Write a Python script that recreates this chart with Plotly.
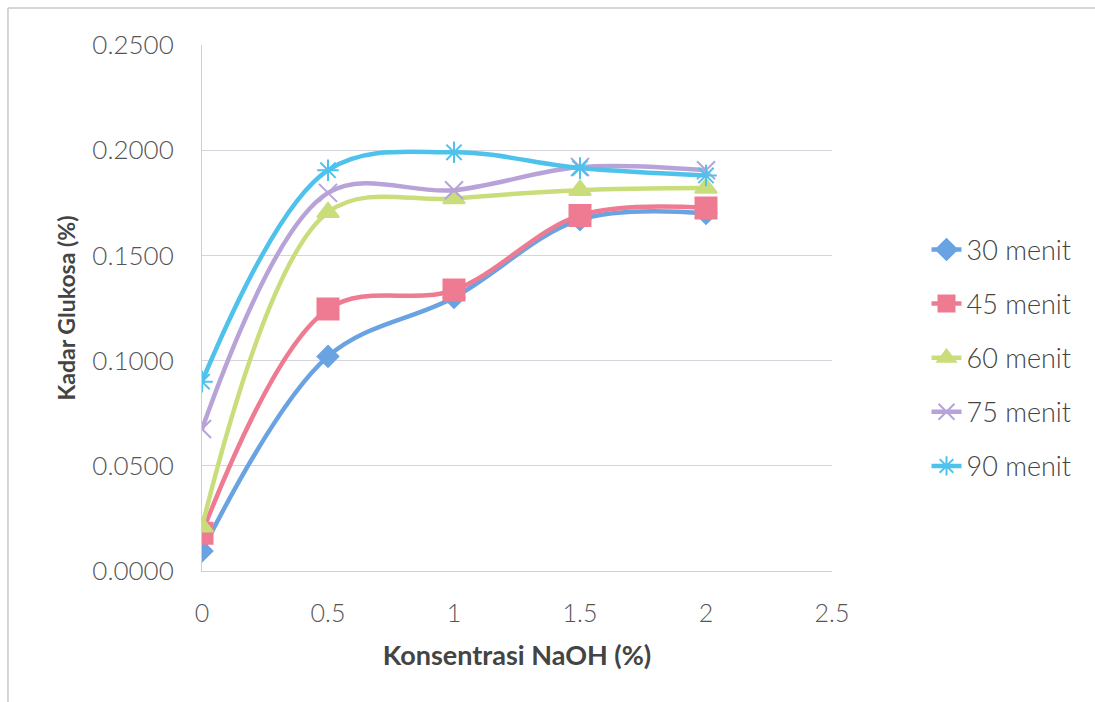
import plotly.graph_objects as go

x_vals = [0, 0.5, 1, 1.5, 2]
series_names = ["30 menit", "45 menit", "60 menit", "75 menit", "90 menit"]
y_30 = [0.0095, 0.1020, 0.1300, 0.1670, 0.1700]
y_45 = [0.0180, 0.1245, 0.1335, 0.1690, 0.1725]
y_60 = [0.0210, 0.1705, 0.1770, 0.1810, 0.1820]
y_75 = [0.0675, 0.1797, 0.1810, 0.1920, 0.1905]
y_90 = [0.0900, 0.1905, 0.1990, 0.1915, 0.1880]
colors = ["#6aa3e2", "#ee7b92", "#c9dd7a", "#b8a3d8", "#4fc2ec"]
symbols = ["diamond", "square", "triangle-up", "x-thin-open", "asterisk-open"]
sizes = [16, 21, 19, 18, 18]

fig = go.Figure()
for i, (name, ys) in enumerate(zip(series_names, [y_30, y_45, y_60, y_75, y_90])):
    fig.add_trace(go.Scatter(
        x=x_vals, y=ys, name=name, mode="lines+markers",
        line=dict(color=colors[i], width=4.5, shape="spline", smoothing=1.0),
        marker=dict(symbol=symbols[i], size=sizes[i], color=colors[i],
                    line=dict(color=colors[i], width=2)),
        legendgroup=name,
    ))

fig.update_layout(
    width=1095, height=702,
    margin=dict(l=202, r=263, t=45, b=131),
    paper_bgcolor="white", plot_bgcolor="white",
    font=dict(family="Lato, Open Sans, sans-serif", color="#444444"),
    xaxis=dict(range=[0, 2.5], dtick=0.5, showgrid=False, zeroline=False,
               showline=True, linecolor="#cfcfcf", linewidth=1,
               tickfont=dict(size=25, color="#555555", weight=300), ticks="",
               ticklabelstandoff=20,
               title=dict(text="Konsentrasi NaOH (%)", font=dict(size=27, color="#444444", weight="bold"), standoff=20)),
    yaxis=dict(range=[0, 0.25], dtick=0.05, tickformat=".4f", showgrid=True,
               gridcolor="#d4d4dc", gridwidth=1, zeroline=False,
               showline=True, linecolor="#cfcfcf", linewidth=1,
               tickfont=dict(size=26, color="#555555", weight=300), ticks="",
               ticklabelstandoff=22,
               title=dict(text="Kadar Glukosa (%)", font=dict(size=23, color="#444444", weight="bold"), standoff=10)),
    legend=dict(x=1.15, y=0.405, xanchor="left", yanchor="middle",
                font=dict(size=27, color="#444444", weight=300), tracegroupgap=16,
                bgcolor="rgba(0,0,0,0)"),
    shapes=[
        dict(type="line", xref="paper", yref="paper", x0=-0.308, x1=1.6, y0=1.0704, y1=1.0704,
             line=dict(color="#c8c8c8", width=1.5)),
        dict(type="line", xref="paper", yref="paper", x0=-0.308, x1=-0.308, y0=1.0704, y1=-0.3,
             line=dict(color="#c8c8c8", width=1.5)),
    ],
)

fig.write_html("out.html")
